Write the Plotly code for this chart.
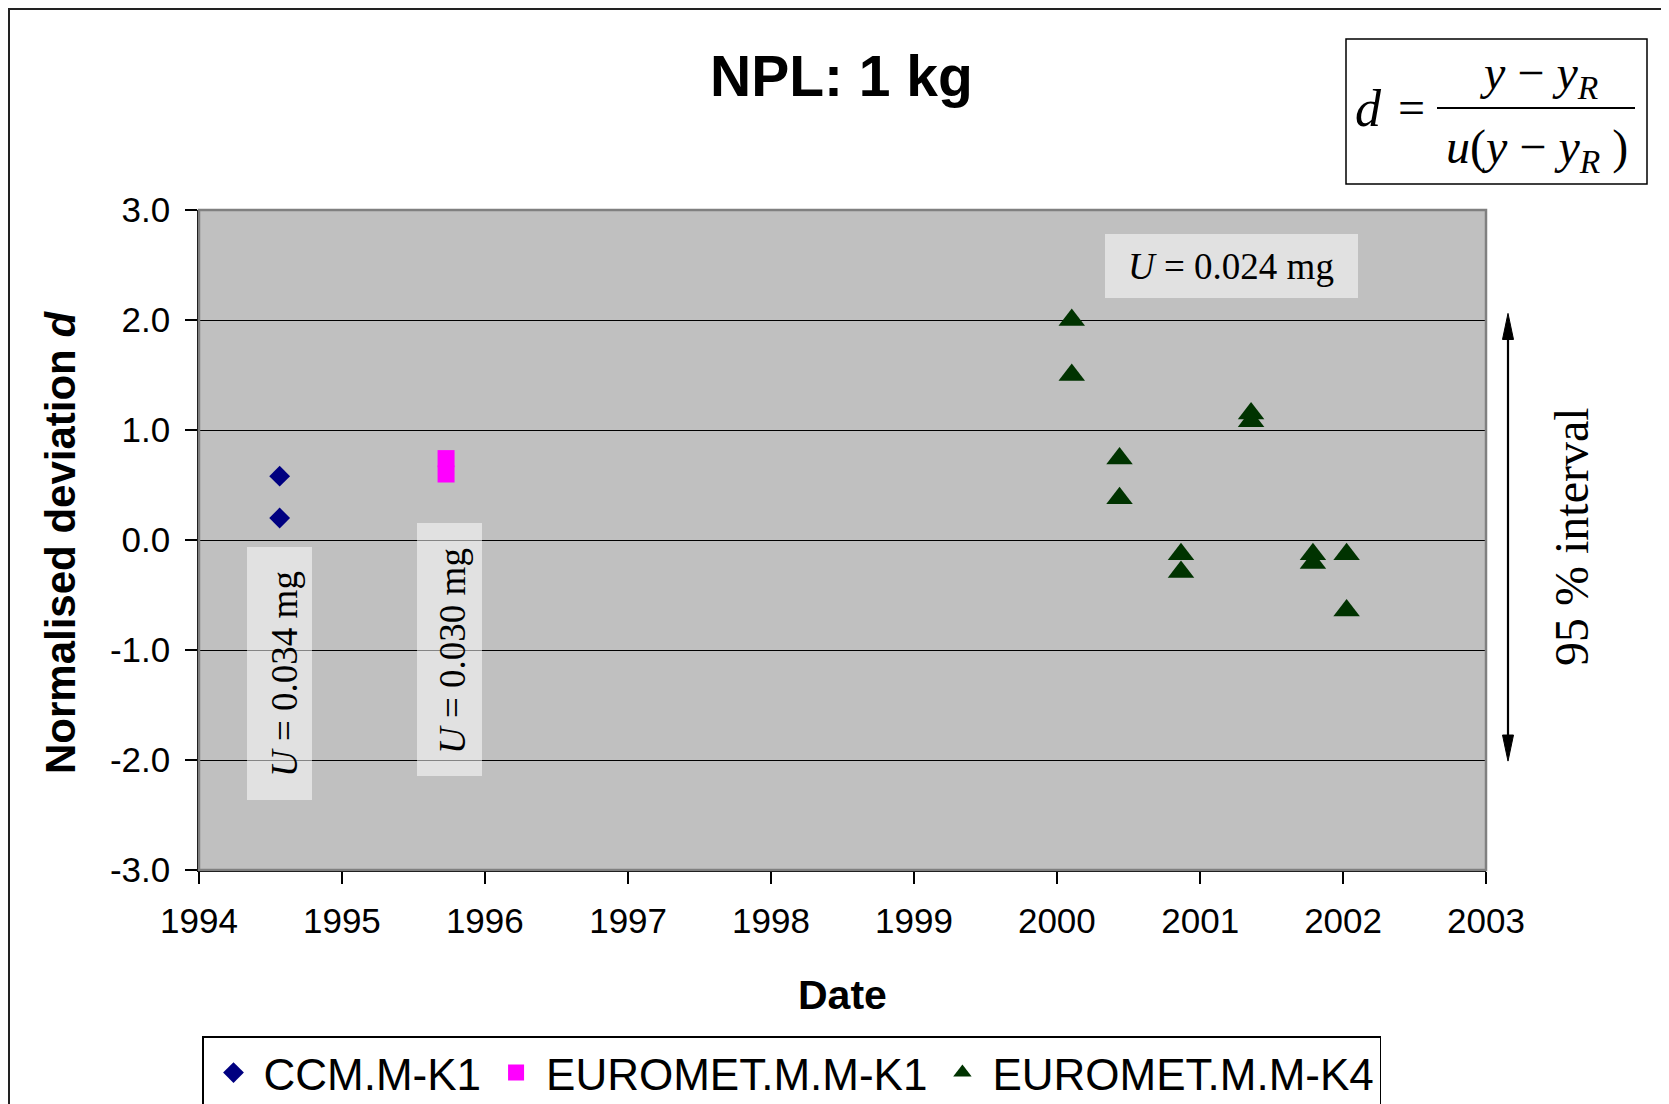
import plotly.graph_objects as go

# ---------------- data ----------------
ccm_dates = ["1994-07-26", "1994-07-26"]
ccm_d = [0.58, 0.20]

emk1_dates = ["1995-09-24", "1995-09-24"]
emk1_d = [0.74, 0.60]

emk4_dates = ["2000-02-08", "2000-02-08", "2000-06-09", "2000-06-09",
              "2000-11-13", "2000-11-13", "2001-05-11", "2001-05-11",
              "2001-10-16", "2001-10-16", "2002-01-10", "2002-01-10"]
emk4_d = [2.00, 1.50, 0.74, 0.38, -0.13, -0.29, 1.15, 1.08, -0.13, -0.21, -0.13, -0.64]

series_names = ["CCM.M-K1", "EUROMET.M.M-K1", "EUROMET.M.M-K4"]

year_ticks = [1994, 1995, 1996, 1997, 1998, 1999, 2000, 2001, 2002, 2003]
y_ticks = [-3, -2, -1, 0, 1, 2, 3]
y_tick_labels = ["-3.0", "-2.0", "-1.0", "0.0", "1.0", "2.0", "3.0"]

# ---------------- layout helpers (screen coordinates) ----------------
OFF = 8                       # page body margin
W, H = 1661, 1096
ML, MT = 191, 202
MR = W - (1486 - OFF)
MB = H - (870 - OFF)
PW = W - ML - MR
PH = H - MT - MB


def px(X):
    return (X - OFF - ML) / PW


def py(Y):
    return (H - MB - (Y - OFF)) / PH


SANS = "Liberation Sans, Arial, sans-serif"
SERIF = "Liberation Serif, Times New Roman, serif"

fig = go.Figure()
fig.add_trace(go.Scatter(x=ccm_dates, y=ccm_d, mode="markers", name=series_names[0],
                         marker=dict(symbol="diamond", size=16, color="#000080",
                                     line=dict(width=0))))
fig.add_trace(go.Scatter(x=emk1_dates, y=emk1_d, mode="markers", name=series_names[1],
                         marker=dict(symbol="square", size=17, color="#FF00FF",
                                     line=dict(width=0))))
fig.add_trace(go.Scatter(x=emk4_dates, y=emk4_d, mode="markers", name=series_names[2],
                         marker=dict(symbol="triangle-up", size=23, color="#003300",
                                     line=dict(width=0))))

shapes = []
# outer figure frame
shapes.append(dict(type="rect", xref="paper", yref="paper",
                   x0=px(9), x1=px(1666), y0=py(1140), y1=py(9),
                   line=dict(color="#222222", width=2), fillcolor="rgba(0,0,0,0)",
                   layer="below"))
# plot-area border (grey)
shapes.append(dict(type="rect", xref="paper", yref="paper", x0=0, x1=1, y0=0, y1=1,
                   line=dict(color="#808080", width=2.5), fillcolor="rgba(0,0,0,0)",
                   layer="above"))
# translucent label boxes
box_fill = "rgba(255,255,255,0.52)"
shapes.append(dict(type="rect", xref="paper", yref="paper",
                   x0=px(247), x1=px(312), y0=py(800), y1=py(547),
                   line=dict(width=0), fillcolor=box_fill, layer="above"))
shapes.append(dict(type="rect", xref="paper", yref="paper",
                   x0=px(417), x1=px(482), y0=py(776), y1=py(523),
                   line=dict(width=0), fillcolor=box_fill, layer="above"))
shapes.append(dict(type="rect", xref="paper", yref="paper",
                   x0=px(1105), x1=px(1358), y0=py(298), y1=py(234),
                   line=dict(width=0), fillcolor=box_fill, layer="above"))
# formula box
shapes.append(dict(type="rect", xref="paper", yref="paper",
                   x0=px(1346), x1=px(1647), y0=py(184), y1=py(39),
                   line=dict(color="black", width=1.5), fillcolor="white", layer="above"))
# fraction bar
shapes.append(dict(type="line", xref="paper", yref="paper",
                   x0=px(1437), x1=px(1635), y0=py(108), y1=py(108),
                   line=dict(color="black", width=2), layer="above"))
# 95 % interval double arrow
ax_x = px(1508)
hw = 5.5 / PW
top_tip, bot_tip, head = 2.06, -2.01, 0.237
shapes.append(dict(type="line", xref="paper", yref="y",
                   x0=ax_x, x1=ax_x, y0=top_tip - head + 0.02, y1=bot_tip + head - 0.02,
                   line=dict(color="black", width=2.2), layer="above"))
shapes.append(dict(type="path", xref="paper", yref="y",
                   path=f"M{ax_x},{top_tip} L{ax_x - hw},{top_tip - head} "
                        f"L{ax_x + hw},{top_tip - head} Z",
                   fillcolor="black", line=dict(color="black", width=1), layer="above"))
shapes.append(dict(type="path", xref="paper", yref="y",
                   path=f"M{ax_x},{bot_tip} L{ax_x - hw},{bot_tip + head} "
                        f"L{ax_x + hw},{bot_tip + head} Z",
                   fillcolor="black", line=dict(color="black", width=1), layer="above"))

annotations = []
# title
annotations.append(dict(text="<b>NPL: 1 kg</b>", xref="paper", yref="paper",
                        x=px(841), y=py(76), showarrow=False, xanchor="center",
                        yanchor="middle", font=dict(family=SANS, size=57, color="black")))
# axis titles
annotations.append(dict(text="<b>Date</b>", xref="paper", yref="paper",
                        x=0.5, y=py(995), showarrow=False, xanchor="center",
                        yanchor="middle", font=dict(family=SANS, size=41, color="black")))
annotations.append(dict(text="<b>Normalised deviation <i>d</i></b>", xref="paper",
                        yref="paper", x=px(60), y=py(543), showarrow=False,
                        textangle=-90, xanchor="center", yanchor="middle",
                        font=dict(family=SANS, size=42, color="black")))
# uncertainty labels
annotations.append(dict(text="<i>U</i> = 0.034 mg", xref="paper", yref="paper",
                        x=px(284), y=py(674), showarrow=False, textangle=-90,
                        xanchor="center", yanchor="middle",
                        font=dict(family=SERIF, size=37, color="black")))
annotations.append(dict(text="<i>U</i> = 0.030 mg", xref="paper", yref="paper",
                        x=px(452), y=py(651), showarrow=False, textangle=-90,
                        xanchor="center", yanchor="middle",
                        font=dict(family=SERIF, size=37, color="black")))
annotations.append(dict(text="<i>U</i> = 0.024 mg", xref="paper", yref="paper",
                        x=px(1231), y=py(267), showarrow=False,
                        xanchor="center", yanchor="middle",
                        font=dict(family=SERIF, size=37, color="black")))
annotations.append(dict(text="95 % interval", xref="paper", yref="paper",
                        x=px(1571), y=py(537), showarrow=False, textangle=-90,
                        xanchor="center", yanchor="middle",
                        font=dict(family=SERIF, size=48, color="black")))
# formula
annotations.append(dict(text="<i>d</i>", xref="paper", yref="paper",
                        x=px(1368), y=py(108), showarrow=False, xanchor="center",
                        yanchor="middle", font=dict(family=SERIF, size=52, color="black")))
annotations.append(dict(text="=", xref="paper", yref="paper",
                        x=px(1411), y=py(107), showarrow=False, xanchor="center",
                        yanchor="middle", font=dict(family=SERIF, size=48, color="black")))
annotations.append(dict(text="<i>y</i> − <i>y</i><sub><i>R</i></sub>", xref="paper",
                        yref="paper", x=px(1538), y=py(76), showarrow=False,
                        xanchor="center", yanchor="middle",
                        font=dict(family=SERIF, size=48, color="black")))
annotations.append(dict(text="<i>u</i>(<i>y</i> − <i>y</i><sub><i>R</i></sub> )",
                        xref="paper", yref="paper", x=px(1537), y=py(150),
                        showarrow=False, xanchor="center", yanchor="middle",
                        font=dict(family=SERIF, size=48, color="black")))

fig.update_layout(
    width=W, height=H,
    margin=dict(l=ML, r=MR, t=MT, b=MB, autoexpand=False),
    paper_bgcolor="white",
    plot_bgcolor="#C0C0C0",
    font=dict(family=SANS, color="black"),
    showlegend=True,
    legend=dict(orientation="h", x=px(202), y=py(1036), xanchor="left", yanchor="top",
                bgcolor="white", bordercolor="black", borderwidth=1.5,
                font=dict(family=SANS, size=44, color="black"),
                itemwidth=50, itemsizing="trace"),
    shapes=shapes,
    annotations=annotations,
    xaxis=dict(type="date", range=["1994-01-01", "2003-01-01"],
               tickvals=[f"{y}-01-01" for y in year_ticks],
               ticktext=[str(y) for y in year_ticks],
               showgrid=False, zeroline=False,
               showline=True, linecolor="black", linewidth=1.5,
               ticks="outside", ticklen=12, tickwidth=1.5, tickcolor="black",
               tickfont=dict(family=SANS, size=35, color="black"),
               ticklabelstandoff=7),
    yaxis=dict(range=[-3, 3], tickvals=y_ticks, ticktext=y_tick_labels,
               showgrid=True, gridcolor="black", gridwidth=1,
               zeroline=False,
               showline=True, linecolor="black", linewidth=1.5,
               ticks="outside", ticklen=12, tickwidth=1.5, tickcolor="black",
               tickfont=dict(family=SANS, size=35, color="black"),
               ticklabelstandoff=8),
)

fig.write_html("out.html")
